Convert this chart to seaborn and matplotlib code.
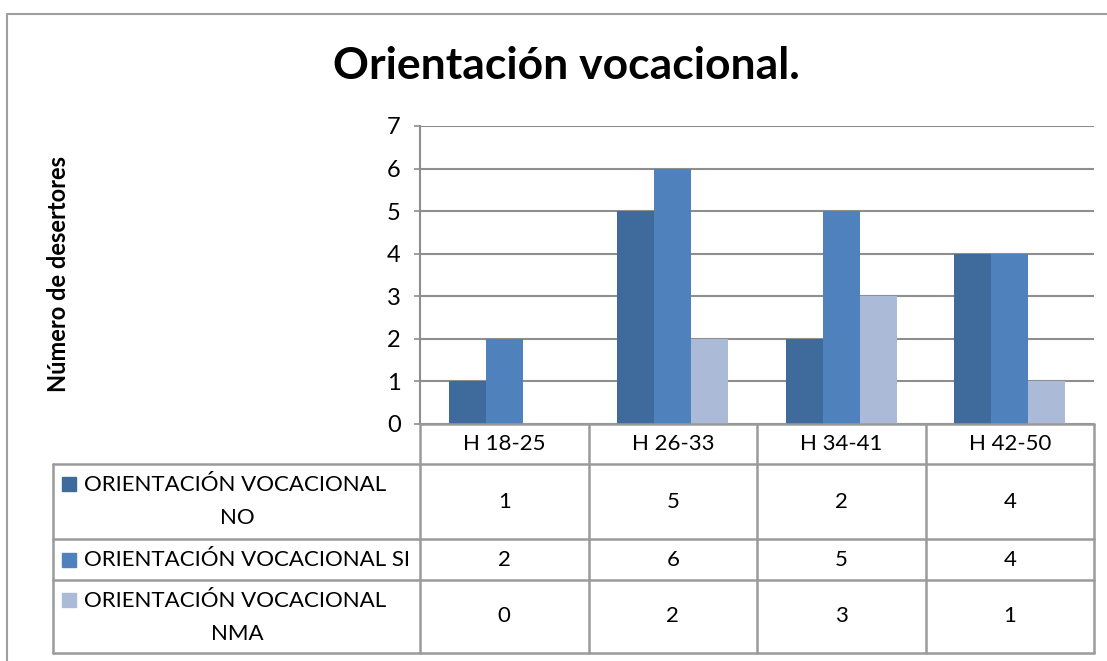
import matplotlib
matplotlib.use("Agg")
import matplotlib.pyplot as plt
import seaborn as sns
import pandas as pd
from matplotlib.lines import Line2D
from matplotlib.patches import Rectangle

# ---- data ----
categories = ["H 18-25", "H 26-33", "H 34-41", "H 42-50"]
series_names = ["ORIENTACIÓN VOCACIONAL NO", "ORIENTACIÓN VOCACIONAL SI", "ORIENTACIÓN VOCACIONAL NMA"]
series_labels = ["ORIENTACIÓN VOCACIONAL\nNO", "ORIENTACIÓN VOCACIONAL SI", "ORIENTACIÓN VOCACIONAL\nNMA"]
values_no = [1, 5, 2, 4]
values_si = [2, 6, 5, 4]
values_nma = [0, 2, 3, 1]
colors = ["#3F6A9C", "#4F81BD", "#AABAD7"]
yticks = [0, 1, 2, 3, 4, 5, 6, 7]
title = "Orientación vocacional."
ylabel = "Número de desertores"

series_values = [values_no, values_si, values_nma]
rows = []
for name, vals in zip(series_names, series_values):
    for c, v in zip(categories, vals):
        rows.append({"cat": c, "serie": name, "valor": v})
df = pd.DataFrame(rows)

sns.set_theme(style="white")
plt.rcParams["font.family"] = ["Lato", "DejaVu Sans"]
plt.rcParams["text.color"] = "black"

W, H = 1107, 661
fig = plt.figure(figsize=(W / 100, H / 100), dpi=100)
fx = lambda x: x / W
fy = lambda y: 1 - y / H

GRID = "#8E8E8E"
LINE = "#9A9A9A"
FS = 16

ax_l, ax_r, ax_t, ax_b = 420, 1094, 126, 424
ax = fig.add_axes([fx(ax_l), fy(ax_b), fx(ax_r) - fx(ax_l), fy(ax_t) - fy(ax_b)])

sns.barplot(data=df, x="cat", y="valor", hue="serie", order=categories,
            hue_order=series_names, palette=colors, width=0.66, gap=0,
            linewidth=0, saturation=1, ax=ax, legend=False, zorder=3)

ax.set_ylim(0, 7)
ax.set_xlim(-0.5, len(categories) - 0.5)
ax.set_yticks(yticks)
ax.set_yticklabels([str(t) for t in yticks], fontsize=17, color="black")
ax.tick_params(axis="y", length=4, width=1.2, color=GRID, pad=10, left=True)
ax.set_xticks([])
ax.set_xlabel("")
ax.set_ylabel("")
for y in yticks:
    ax.axhline(y, color=GRID, lw=1.5, zorder=1)
for s in ["top", "right", "bottom"]:
    ax.spines[s].set_visible(False)
ax.spines["left"].set_color(GRID)
ax.spines["left"].set_linewidth(1.5)

# title and y label
fig.text(fx(566), fy(66), title, fontsize=32, fontweight="bold", ha="center", va="center",
         color="black")
fig.text(fx(59), fy(274), ylabel, fontsize=17, fontweight="bold", rotation=90,
         ha="center", va="center", color="black")

# outer frame
fig.add_artist(Line2D([fx(7), fx(7)], [fy(14), 0], color="#A0A0A0", lw=1.5))
fig.add_artist(Line2D([fx(7), 1], [fy(14), fy(14)], color="#A0A0A0", lw=1.5))

# ---- data table ----
tbl_left = 53
row_edges = [424, 464, 539, 580, 653]
col_edges_x = [ax.transData.transform((k - 0.5, 0))[0] / W for k in range(len(categories) + 1)]

for xe in col_edges_x:
    fig.add_artist(Line2D([xe, xe], [fy(row_edges[0]), fy(row_edges[-1])], color=LINE, lw=1.8))
fig.add_artist(Line2D([fx(tbl_left), fx(tbl_left)], [fy(row_edges[1]), fy(row_edges[-1])], color=LINE, lw=1.8))
fig.add_artist(Line2D([col_edges_x[0], col_edges_x[-1]], [fy(row_edges[0]), fy(row_edges[0])], color=LINE, lw=1.8))
for ye in row_edges[1:]:
    fig.add_artist(Line2D([fx(tbl_left), col_edges_x[-1]], [fy(ye), fy(ye)], color=LINE, lw=1.8))

for k, c in enumerate(categories):
    xc = (col_edges_x[k] + col_edges_x[k + 1]) / 2
    fig.text(xc, fy((row_edges[0] + row_edges[1]) / 2), c, fontsize=FS, ha="center", va="center")

for i, (lab, vals, col) in enumerate(zip(series_labels, series_values, colors)):
    yt, yb = row_edges[i + 1], row_edges[i + 2]
    yc = (yt + yb) / 2
    for k, v in enumerate(vals):
        xc = (col_edges_x[k] + col_edges_x[k + 1]) / 2
        fig.text(xc, fy(yc), str(v), fontsize=FS, ha="center", va="center")
    ky = yt + 13 if i != 1 else yc - 7
    fig.add_artist(Rectangle((fx(62), fy(ky + 14)), fx(14), fy(0) - fy(14), color=col,
                             transform=fig.transFigure))
    lines = lab.split("\n")
    if len(lines) == 1:
        fig.text(fx(84), fy(yc), lines[0], fontsize=FS, ha="left", va="center")
    else:
        fig.text(fx(84), fy(yt + 21), lines[0], fontsize=FS, ha="left", va="center")
        fig.text(fx(237), fy(yt + 54), lines[1], fontsize=FS, ha="center", va="center")

fig.savefig("out.png", dpi=100)
